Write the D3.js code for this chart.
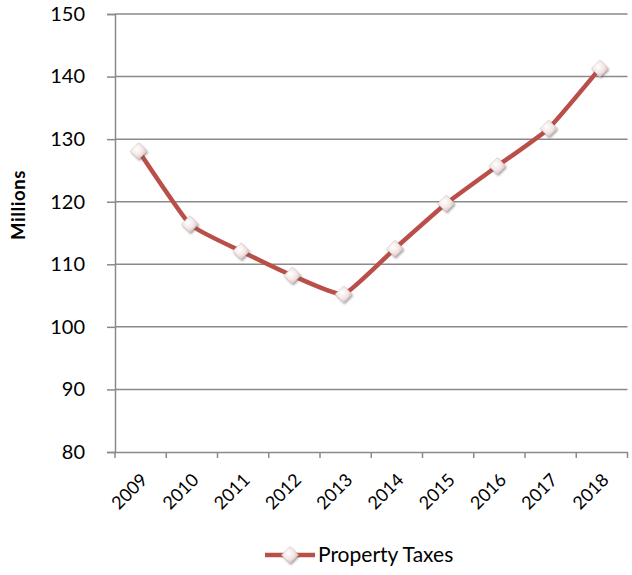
<!DOCTYPE html>
<html><head><meta charset="utf-8">
<script src="https://cdn.jsdelivr.net/npm/d3@7"></script>
<style>body{margin:0;background:#fff;}svg{display:block;font-family:Lato,"Open Sans",sans-serif;}</style>
</head><body><svg id="c" width="632" height="575"></svg>
<script>
const years = ["2009","2010","2011","2012","2013","2014","2015","2016","2017","2018"];
const propertyTaxes = [128.1, 116.4, 112.1, 108.2, 105.2, 112.5, 119.7, 125.7, 131.7, 141.3];
const yTicks = [80, 90, 100, 110, 120, 130, 140, 150];
const seriesName = "Property Taxes";
const yTitle = "Millions";

(function(){
const svg = d3.select("#c");
const pLeft = 115, pRight = 627.5, pTop = 14, pBottom = 452;
const x = d3.scaleBand().domain(years).range([pLeft, pRight]);
const y = d3.scaleLinear().domain([80, 150]).range([pBottom, pTop]);
const gray = "#8a8a8a";
const red = "#BA4F4A";

const defs = svg.append("defs");
const g1 = defs.append("radialGradient").attr("id","mk").attr("cx","40%").attr("cy","40%").attr("r","70%");
g1.append("stop").attr("offset","0%").attr("stop-color","#ffffff");
g1.append("stop").attr("offset","50%").attr("stop-color","#f4e6e6");
g1.append("stop").attr("offset","100%").attr("stop-color","#cfadad");
const f = defs.append("filter").attr("id","sh").attr("x","-50%").attr("y","-50%").attr("width","200%").attr("height","200%");
f.append("feGaussianBlur").attr("stdDeviation",1.2);

// gridlines
svg.append("g").selectAll("line").data(yTicks.slice(1)).join("line")
  .attr("x1", pLeft).attr("x2", pRight)
  .attr("y1", d => y(d)).attr("y2", d => y(d))
  .attr("stroke", gray).attr("stroke-width", 1.5);

// y axis
const ya = svg.append("g").attr("transform", `translate(${pLeft},0)`)
  .call(d3.axisLeft(y).tickValues(yTicks).tickSize(8).tickPadding(22));
ya.select(".domain").attr("stroke", gray).attr("stroke-width", 1.5);
ya.selectAll(".tick line").attr("stroke", gray).attr("stroke-width", 1.5);
ya.selectAll("text").attr("font-size", 20).attr("fill", "#000").attr("font-family","Lato");

// x axis
const xa = svg.append("g").attr("transform", `translate(0,${pBottom})`)
  .call(d3.axisBottom(x).tickSize(0).tickFormat(""));
xa.select(".domain").attr("stroke", gray).attr("stroke-width", 1.5);
const bounds = [...years.map(d => x(d)), pRight];
svg.append("g").selectAll("line").data(bounds).join("line")
  .attr("x1", d => d).attr("x2", d => d).attr("y1", pBottom).attr("y2", pBottom + 6)
  .attr("stroke", gray).attr("stroke-width", 1.5);
svg.append("g").selectAll("text").data(years).join("text")
  .attr("transform", d => `translate(${x(d) + x.bandwidth()/2 + 8},${pBottom + 29}) rotate(-45)`)
  .attr("text-anchor", "end").attr("font-size", 18).attr("fill", "#000").text(d => d);

// y title
svg.append("text").attr("transform", "translate(25,205) rotate(-90)")
  .attr("text-anchor", "middle").attr("font-size", 18.5).attr("font-weight", "bold")
  .attr("letter-spacing", 0.6).text(yTitle);

// line
const px = (d, i) => x(years[i]) + x.bandwidth()/2 - 2;
const line = d3.line().x((d,i) => px(d,i)).y(d => y(d)).curve(d3.curveCardinal.tension(0.6));
svg.append("path").datum(propertyTaxes).attr("d", line)
  .attr("fill", "none").attr("stroke", red).attr("stroke-width", 4.5).attr("stroke-linejoin","round");

function marker(sel, cx, cy) {
  const s = 8.5;
  const pts = `${0},${-s} ${s},0 0,${s} ${-s},0`;
  const g = sel.append("g").attr("transform", `translate(${cx},${cy})`);
  g.append("polygon").attr("points", pts).attr("transform","translate(1,1.5)").attr("fill","#5e5e5e").attr("opacity",0.6).attr("filter","url(#sh)");
  g.append("polygon").attr("points", pts).attr("fill","url(#mk)").attr("stroke","#dcc6c6").attr("stroke-width",0.6);
}
const mk = svg.append("g");
propertyTaxes.forEach((v,i) => marker(mk, px(v,i), y(v)));

// legend
const lg = svg.append("g");
lg.append("line").attr("x1", 265).attr("x2", 315).attr("y1", 555).attr("y2", 555)
  .attr("stroke", red).attr("stroke-width", 4.5);
marker(lg, 290, 555);
lg.append("text").attr("x", 318).attr("y", 562).attr("font-size", 21).attr("fill","#000").text(seriesName);
})();
</script></body></html>
